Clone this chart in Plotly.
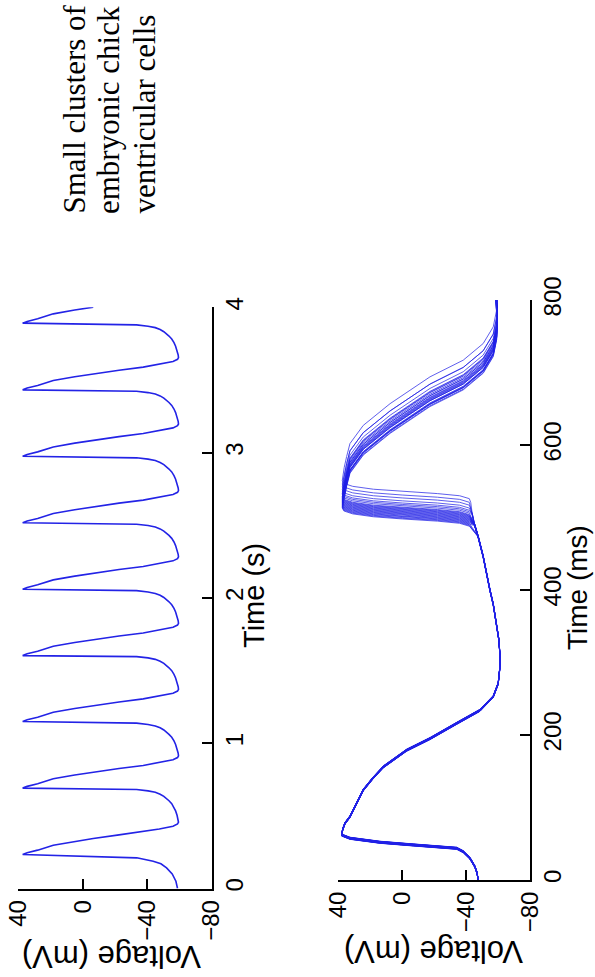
import plotly.graph_objects as go

W, H = 595, 977

# ---------------- top panel: time (s) vs voltage (mV) ----------------
top_start_s = [0.000, 0.050, 0.100, 0.142, 0.170, 0.188, 0.211]
top_start_mv = [-58.8, -57.8, -55.5, -52.0, -48.5, -43.7, -33.5]
top_peak_s = [0.234, 0.691, 1.149, 1.603, 2.060, 2.517, 2.975, 3.432, 3.891]
# one cycle, offset from its peak (s) and voltage (mV)
cycle_rel_s = [0.000, 0.012, 0.030, 0.064, 0.090, 0.110, 0.135, 0.156, 0.175,
               0.195, 0.210, 0.222, 0.240, 0.270, 0.300, 0.325, 0.350,
               0.370, 0.385, 0.400, 0.415, 0.428, 0.438, 0.447]
cycle_mv = [37.3, 34.5, 28.0, 18.3, 5.0, -6.5, -22.5, -37.5, -47.5,
            -56.0, -58.8, -59.4, -59.2, -58.5, -57.6, -56.6, -55.2,
            -53.5, -52.1, -50.3, -48.0, -45.0, -40.5, -33.4]
top_end_s = 4.002

# ---------------- bottom panel: time (ms) vs voltage (mV) ----------------
ap1_ms = [0, 10, 18.4, 30, 39, 43.7, 48.3, 52, 57.5, 62, 70, 78.2, 87.3, 105,
          124, 140, 156, 179, 195, 216, 234, 253, 271, 290, 308, 330, 354,
          380, 400, 420, 446, 473, 490, 505, 520, 535]
ap1_mv = [-47.6, -46.8, -45.5, -42.4, -38.2, -34.1, -6.9, 13.9, 32.7, 37.9,
          37.2, 35.8, 32.7, 28.5, 24.4, 18.5, 11.8, -2.8, -17.4, -34.1, -48.7,
          -57.0, -60.1, -61.0, -61.2, -60.6, -59.1, -57.0, -54.9, -53.2, -50.7,
          -47.6, -45.3, -43.8, -42.9, -42.3]
# second action potential, offset from each trace's upstroke time (ms)
ap2_rel_ms = [-10, -6, -3, 0, 3, 7, 11, 15, 30, 45, 63, 88, 118, 155, 178,
              201, 224, 247, 268, 290, 310]
ap2_mv = [-42.0, -36.0, -22.0, 0.0, 18.0, 31.0, 36.5, 37.5, 36.3, 34.8, 32.7,
          24.4, 7.6, -17.4, -38.2, -50.7, -57.0, -59.1, -59.5, -59.0, -58.4]
upstroke_ms = [536, 531, 527, 523, 520, 518, 516, 514, 513, 512, 511, 510,
               509, 508, 507, 506, 505, 504, 503, 502, 501, 500, 499, 498]
repol_shift_ms = [3, -2, 2, 0, -3, 1, 2, -1, 0, 3, -2, 1, -1, 2, 0, -3, 1, 2,
                  -2, 0, 1, -1, 2, 0]
first_ap_shift_ms = [0.8, -0.6, 1.2, -1.0, 0.3, -1.4, 0.6, 1.5, -0.3, 0.9,
                     -0.8, 0.2, 1.1, -1.2, 0.5, -0.5, 1.3, -0.9, 0.0, 0.7,
                     -1.1, 0.4, -0.2, 1.0]

volt_ticks = [40, 0, -40, -80]
volt_labels = ["40", "0", "\u221240", "\u221280"]
top_time_ticks = [0, 1, 2, 3, 4]
bot_time_ticks = [0, 200, 400, 600, 800]

BLUE = "rgb(35,35,230)"
SANS = "Liberation Sans, Arial, sans-serif"
SERIF = "Liberation Serif, Times New Roman, serif"

# build top trace
t_top = list(top_start_s)
v_top = list(top_start_mv)
for i, p in enumerate(top_peak_s):
    for r, v in zip(cycle_rel_s, cycle_mv):
        t = p + r
        if i + 1 < len(top_peak_s) and t >= top_peak_s[i + 1]:
            break
        if t > top_end_s:
            break
        t_top.append(t)
        v_top.append(v)

fig = go.Figure()
fig.add_trace(go.Scatter(x=v_top, y=t_top, mode="lines",
                         line=dict(color=BLUE, width=1.6),
                         xaxis="x", yaxis="y", showlegend=False,
                         hoverinfo="skip"))

for u, rs, js in zip(upstroke_ms, repol_shift_ms, first_ap_shift_ms):
    ts, vs = [], []
    for t, v in zip(ap1_ms, ap1_mv):
        tt = t + js if t > 0 else t
        if tt >= u - 12:
            break
        ts.append(tt)
        vs.append(v)
    for r, v in zip(ap2_rel_ms, ap2_mv):
        ts.append(u + r + (rs if r >= 30 else 0))
        vs.append(v)
    fig.add_trace(go.Scatter(x=vs, y=ts, mode="lines",
                             line=dict(color=BLUE, width=0.9),
                             opacity=0.8, xaxis="x2", yaxis="y2",
                             showlegend=False, hoverinfo="skip"))


def px(x):
    return x / W


def py(y):
    return 1 - y / H


common_x = dict(range=[40, -80], tickvals=volt_ticks, ticktext=volt_labels,
                tickangle=-90, ticks="inside", ticklen=10, tickwidth=2,
                tickcolor="black", showline=True, linecolor="black",
                linewidth=2, showgrid=False, zeroline=False, side="bottom",
                automargin=False, fixedrange=True,
                tickfont=dict(family=SANS, size=24, color="black"))
common_y = dict(tickangle=-90, ticks="inside", ticklen=10, tickwidth=2,
                tickcolor="black", showline=True, linecolor="black",
                linewidth=2, showgrid=False, zeroline=False, side="right",
                automargin=False, fixedrange=True,
                tickfont=dict(family=SANS, size=24, color="black"))

fig.update_layout(
    width=W, height=H, autosize=False,
    margin=dict(l=0, r=0, t=0, b=0, pad=0, autoexpand=False),
    paper_bgcolor="white", plot_bgcolor="white",
    xaxis=dict(domain=[px(18.3), px(211.7)], anchor="y", **common_x),
    yaxis=dict(domain=[py(888.5), py(307.3)], anchor="x", range=[0, 4],
               tickvals=top_time_ticks, **common_y),
    xaxis2=dict(domain=[px(338.3), px(530)], anchor="y2", **common_x),
    yaxis2=dict(domain=[py(880), py(300)], anchor="x2", range=[0, 800],
                tickvals=bot_time_ticks, **common_y),
)

ann = []
ann.append(dict(text="Time (s)", x=px(254), y=py(596), textangle=-90,
                font=dict(family=SANS, size=29, color="black")))
ann.append(dict(text="Time (ms)", x=px(577), y=py(588), textangle=-90,
                font=dict(family=SANS, size=28, color="black")))
ann.append(dict(text="Voltage (mV)", x=px(112), y=py(957), textangle=180,
                font=dict(family=SANS, size=31, color="black")))
ann.append(dict(text="Voltage (mV)", x=px(434), y=py(952), textangle=180,
                font=dict(family=SANS, size=31, color="black")))
for txt, xc in [("Small clusters of", 74), ("embryonic chick", 109),
                ("ventricular cells", 144)]:
    ann.append(dict(text=txt, x=px(xc), y=py(216), textangle=-90,
                    xanchor="center", yanchor="bottom",
                    font=dict(family=SERIF, size=31, color="black")))
for a in ann:
    a.setdefault("xanchor", "center")
    a.setdefault("yanchor", "middle")
    a.update(xref="paper", yref="paper", showarrow=False)
fig.update_layout(annotations=ann)

fig.write_html("out.html", config={"responsive": False})
